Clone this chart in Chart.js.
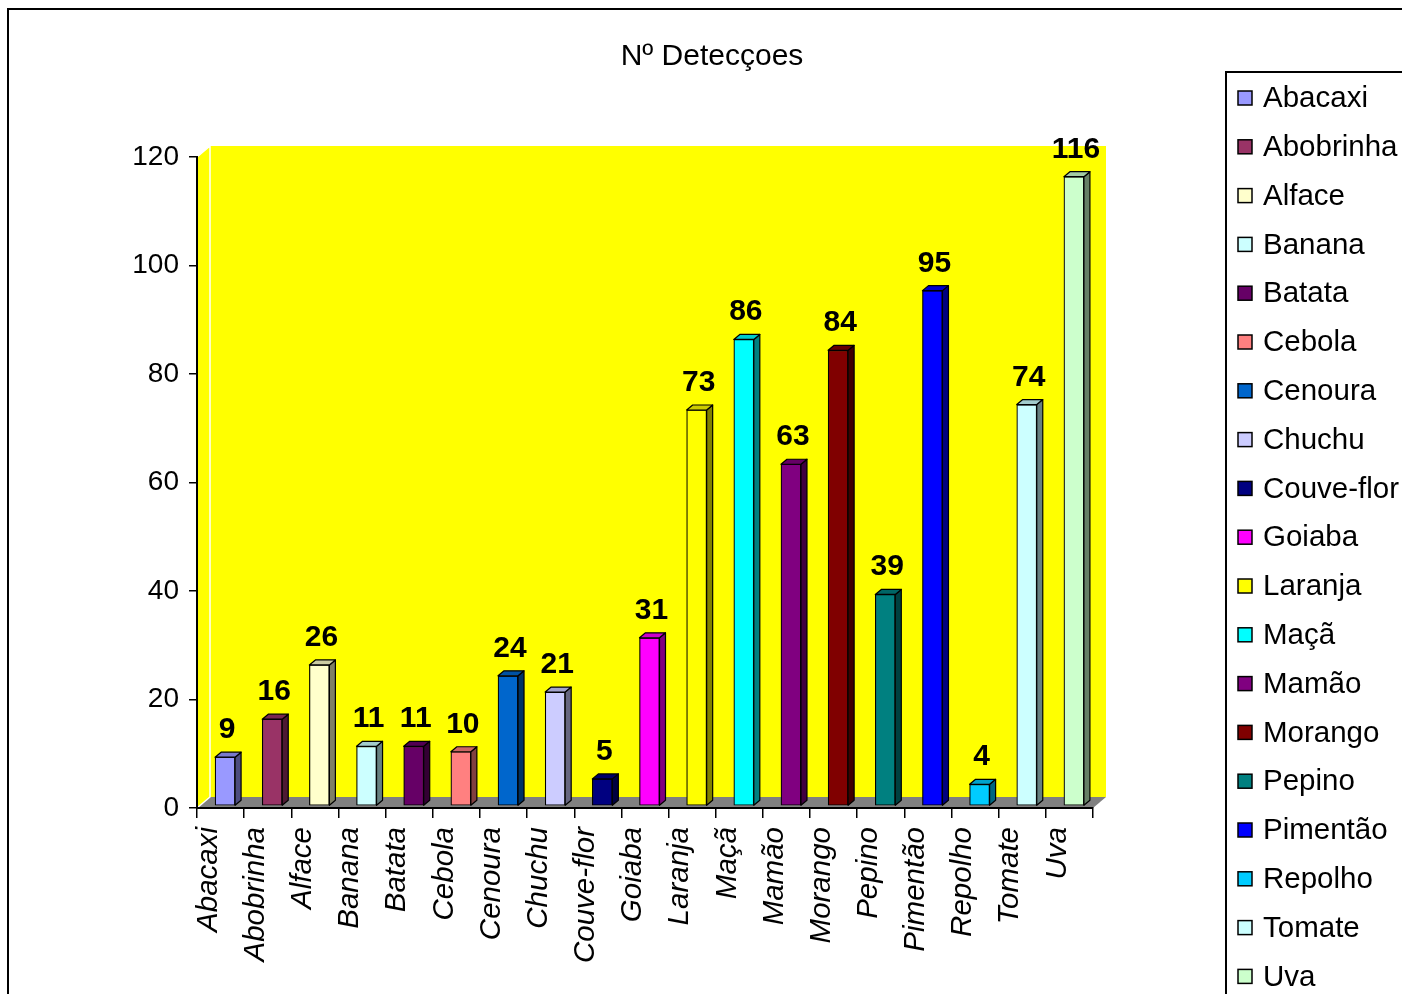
<!DOCTYPE html>
<html>
<head>
<meta charset="utf-8">
<title>Nº Detecçoes</title>
<script src="https://cdn.jsdelivr.net/npm/chart.js@4.4.1/dist/chart.umd.min.js"></script>
<style>
    html, body { margin: 0; padding: 0; background: #fff; }
    canvas { display: block; }
</style>
</head>
<body>
<canvas id="detectionsChart" width="1402" height="994"></canvas>
<script>
// Number of detections per product
const categories = ['Abacaxi', 'Abobrinha', 'Alface', 'Banana', 'Batata', 'Cebola', 'Cenoura', 'Chuchu',
    'Couve-flor', 'Goiaba', 'Laranja', 'Maçã', 'Mamão', 'Morango', 'Pepino', 'Pimentão', 'Repolho', 'Tomate', 'Uva'];
const detections = [9, 16, 26, 11, 11, 10, 24, 21, 5, 31, 73, 86, 63, 84, 39, 95, 4, 74, 116];
const barColors = ['#9999FF', '#993366', '#FFFFCC', '#CCFFFF', '#660066', '#FF8080', '#0066CC', '#CCCCFF',
    '#000080', '#FF00FF', '#FFFF00', '#00FFFF', '#800080', '#800000', '#008080', '#0000FF', '#00CCFF', '#CCFFFF', '#CCFFCC'];
const yTicks = [0, 20, 40, 60, 80, 100, 120];

const fontFamily = "'Liberation Sans', Arial, sans-serif";

// 3D look: wall depth, bar depth and how far the bar fronts sit inside the box
const wall = { dx: 13, dy: 11 };
const depth = { dx: 6, dy: 5 };
const shift = { x: 4.5, y: -2 };

function shade(hex, f) {
    const n = parseInt(hex.slice(1), 16);
    const r = Math.round(((n >> 16) & 255) * f);
    const g = Math.round(((n >> 8) & 255) * f);
    const b = Math.round((n & 255) * f);
    return `rgb(${r}, ${g}, ${b})`;
}

function poly(ctx, pts) {
    ctx.beginPath();
    ctx.moveTo(pts[0][0], pts[0][1]);
    for (let i = 1; i < pts.length; i++) ctx.lineTo(pts[i][0], pts[i][1]);
    ctx.closePath();
}

// #region 3D box, bar depth, value labels and legend
const excel3d = {
    id: 'excel3d',
    beforeDraw(chart) {
        const { ctx, chartArea: a } = chart;
        ctx.save();
        ctx.fillStyle = '#fff';
        ctx.fillRect(0, 0, chart.width, chart.height);

        // outer frame, runs off the right and bottom edges
        ctx.strokeStyle = '#000';
        ctx.lineWidth = 2;
        ctx.strokeRect(8, 9, chart.width + 40, chart.height + 40);

        // side wall and back wall
        ctx.fillStyle = '#FFFF00';
        poly(ctx, [[a.left, a.top], [a.left + wall.dx, a.top - wall.dy], [a.left + wall.dx, a.bottom - wall.dy], [a.left, a.bottom]]);
        ctx.fill();
        ctx.fillRect(a.left + wall.dx, a.top - wall.dy, a.width, a.height);

        // floor
        ctx.fillStyle = '#808080';
        poly(ctx, [[a.left, a.bottom], [a.left + wall.dx, a.bottom - wall.dy], [a.right + wall.dx, a.bottom - wall.dy], [a.right, a.bottom]]);
        ctx.fill();

        // light edges of the box
        ctx.strokeStyle = '#fff';
        ctx.lineWidth = 1.5;
        ctx.beginPath();
        ctx.moveTo(a.left, a.top);
        ctx.lineTo(a.left + wall.dx, a.top - wall.dy);
        ctx.lineTo(a.left + wall.dx, a.bottom - wall.dy);
        ctx.lineTo(a.left, a.bottom);
        ctx.stroke();
        ctx.restore();
    },
    beforeDatasetsDraw(chart) {
        chart.ctx.save();
        chart.ctx.translate(shift.x, shift.y);
    },
    afterDatasetsDraw(chart) {
        const ctx = chart.ctx;
        ctx.restore();
        ctx.save();
        const meta = chart.getDatasetMeta(0);
        const ds = chart.data.datasets[0];
        meta.data.forEach((bar, i) => {
            const p = bar.getProps(['x', 'y', 'base', 'width'], true);
            const x0 = p.x - p.width / 2 + shift.x;
            const x1 = p.x + p.width / 2 + shift.x;
            const top = p.y + shift.y;
            const bottom = p.base + shift.y;
            const c = ds.backgroundColor[i];
            ctx.lineWidth = 1.2;
            ctx.strokeStyle = '#000';
            ctx.lineJoin = 'round';

            // right side
            ctx.fillStyle = shade(c, 0.5);
            poly(ctx, [[x1, top], [x1 + depth.dx, top - depth.dy], [x1 + depth.dx, bottom - depth.dy], [x1, bottom]]);
            ctx.fill();
            ctx.stroke();

            // top
            ctx.fillStyle = shade(c, 0.8);
            poly(ctx, [[x0, top], [x0 + depth.dx, top - depth.dy], [x1 + depth.dx, top - depth.dy], [x1, top]]);
            ctx.fill();
            ctx.stroke();

            // value label
            ctx.fillStyle = '#000';
            ctx.font = `bold 30px ${fontFamily}`;
            ctx.textAlign = 'center';
            ctx.textBaseline = 'alphabetic';
            ctx.fillText(String(ds.data[i]), (x0 + x1) / 2 + 2, top - 19);
        });
        ctx.restore();
    },
    afterDraw(chart) {
        const ctx = chart.ctx;
        const ds = chart.data.datasets[0];
        const lx = 1226, ly = 72;
        ctx.save();
        ctx.strokeStyle = '#000';
        ctx.lineWidth = 2;
        ctx.strokeRect(lx, ly, 400, 1000);
        ctx.font = `29.5px ${fontFamily}`;
        ctx.textAlign = 'left';
        ctx.textBaseline = 'middle';
        chart.data.labels.forEach((name, i) => {
            const cy = 98 + i * 48.8;
            ctx.fillStyle = ds.backgroundColor[i];
            ctx.fillRect(lx + 12, cy - 7, 14, 14);
            ctx.lineWidth = 1.5;
            ctx.strokeRect(lx + 12, cy - 7, 14, 14);
            ctx.fillStyle = '#000';
            ctx.fillText(name, lx + 37, cy + 1);
        });
        ctx.restore();
    }
};
// #endregion

const ctx = document.getElementById('detectionsChart').getContext('2d');

const detectionsChart = new Chart(ctx, {
    type: 'bar',
    data: {
        labels: categories,
        datasets: [{
            label: 'Nº Detecçoes',
            data: detections,
            backgroundColor: barColors,
            borderColor: '#000',
            borderWidth: 1.2,
            borderSkipped: false,
            barThickness: 20,
            yAxisID: 'y'
        }]
    },
    options: {
        responsive: false,
        animation: false,
        devicePixelRatio: 1,
        layout: {
            padding: { left: 22, right: 0, top: 0, bottom: 0 }
        },
        plugins: {
            legend: { display: false },
            tooltip: { enabled: false },
            title: {
                display: true,
                text: 'Nº Detecçoes',
                color: '#000',
                font: { family: fontFamily, size: 30, weight: 'normal' },
                padding: { top: 39, bottom: 82 }
            }
        },
        scales: {
            x: {
                grid: {
                    display: true,
                    drawOnChartArea: false,
                    tickLength: 10,
                    color: '#000',
                    lineWidth: 1.5
                },
                border: { display: true, color: '#000', width: 2 },
                ticks: {
                    autoSkip: false,
                    minRotation: 90,
                    maxRotation: 90,
                    labelOffset: -12,
                    padding: 9,
                    color: '#000',
                    font: { family: fontFamily, size: 29.5, style: 'italic' }
                },
                afterFit: scale => { scale.height = 186; }
            },
            y: {
                min: yTicks[0],
                max: yTicks[yTicks.length - 1],
                grid: {
                    display: true,
                    drawOnChartArea: false,
                    tickLength: 8,
                    color: '#000',
                    lineWidth: 1.5
                },
                border: { display: true, color: '#000', width: 2 },
                ticks: {
                    stepSize: yTicks[1] - yTicks[0],
                    padding: 10,
                    color: '#000',
                    font: { family: fontFamily, size: 28 }
                },
                afterFit: scale => { scale.width = 175; }
            },
            // empty axis that keeps room on the right for the legend
            yRight: {
                position: 'right',
                display: true,
                grid: { display: false },
                border: { display: false },
                ticks: { display: false },
                afterFit: scale => { scale.width = 309; }
            }
        }
    },
    plugins: [excel3d]
});
</script>
</body>
</html>
